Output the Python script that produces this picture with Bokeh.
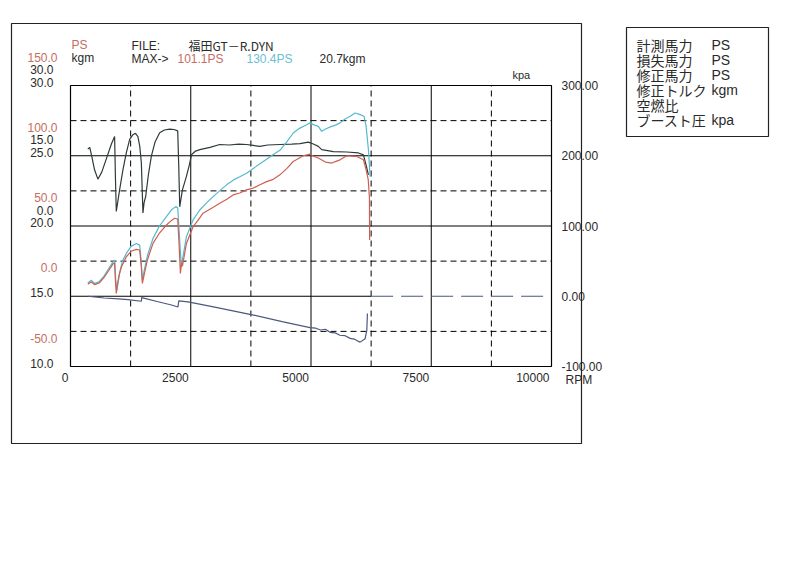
from bokeh.plotting import figure
from bokeh.models import Range1d
from bokeh.core.properties import value
from bokeh.embed import file_html
from bokeh.resources import INLINE

# ---------------- data ----------------
rpm_ticks = [0, 2500, 5000, 7500, 10000]
rpm_tick_labels = ["0", "2500", "5000", "7500", "10000"]
rpm_solid = [2500, 5000, 7500]
rpm_dash = [1250, 3750, 6250, 8750]
kpa_ticks = [300, 200, 100, 0, -100]
kpa_tick_labels = ["300.00", "200.00", "100.00", "0.00", "-100.00"]
kpa_solid = [100, 200]
kpa_dash = [-50, 50, 150, 250]

ps_ticks = [150, 100, 50, 0, -50]
ps_tick_labels = ["150.0", "100.0", "50.0", "0.0", "-50.0"]
kgm_ticks = [30, 15, 0]
kgm_tick_labels = ["30.0", "15.0", "0.0"]
afr_ticks = [30, 25, 20, 15, 10]
afr_tick_labels = ["30.0", "25.0", "20.0", "15.0", "10.0"]

# measured power (PS)
rpm_meas = [360, 431, 500, 600, 700, 800, 881, 917, 935, 952, 975, 1010, 1060, 1160, 1260, 1369,
            1438, 1470, 1494, 1530, 1600, 1715, 1850, 1994, 2100, 2167, 2229, 2260, 2285, 2310,
            2327, 2410, 2548, 2650, 2756, 2950, 3104, 3250, 3381, 3520, 3660, 3800, 3938, 4077,
            4200, 4354, 4500, 4631, 4740, 4840, 4979, 5060, 5152, 5300, 5431, 5520, 5604, 5744,
            5850, 5952, 6090, 6146, 6190, 6215, 6219]
ps_meas = [8.6, 10.2, 8.3, 9.5, 13.5, 18.5, 22.9, 23.8, 10.0, 2.0, 8.0, 15.0, 21.0, 28.1, 32.0, 33.4,
           32.9, 22.0, 9.1, 15.0, 26.0, 37.6, 45.0, 50.7, 54.0, 55.5, 55.0, 35.0, 16.2, 24.0,
           21.4, 37.6, 49.5, 54.0, 59.1, 63.0, 66.2, 69.0, 72.1, 73.5, 75.7, 77.0, 79.3, 81.6,
           83.0, 86.4, 91.0, 95.9, 98.0, 100.0, 101.1, 99.5, 98.4, 95.5, 94.8, 96.0, 97.1, 100.0,
           99.8, 99.5, 97.1, 90.0, 83.0, 70.0, 40.0]

# corrected power (PS)
rpm_corr = [360, 431, 500, 600, 700, 800, 881, 917, 940, 965, 990, 1030, 1080, 1160, 1260, 1369,
            1438, 1470, 1494, 1530, 1600, 1715, 1850, 1994, 2100, 2188, 2229, 2270, 2306, 2333,
            2410, 2548, 2688, 2830, 2965, 3100, 3244, 3400, 3520, 3660, 3800, 3938, 4077, 4200,
            4354, 4500, 4631, 4760, 4910, 4979, 5060, 5152, 5223, 5300, 5431, 5520, 5604, 5700,
            5813, 5917, 6021, 6104, 6146, 6194, 6229]
ps_corr = [9.5, 11.4, 9.0, 10.5, 14.5, 20.0, 24.3, 25.7, 12.0, 4.3, 10.0, 18.0, 25.0, 30.5, 35.5, 37.6,
           36.4, 25.0, 11.4, 18.0, 29.0, 41.2, 50.0, 56.6, 61.5, 63.8, 62.9, 40.0, 20.9, 27.1,
           42.4, 54.3, 61.4, 66.5, 70.9, 75.0, 79.3, 83.0, 85.0, 87.6, 91.0, 94.3, 97.5, 100.5,
           103.9, 110.0, 116.2, 119.5, 122.1, 123.4, 122.0, 120.9, 117.4, 119.0, 120.9, 122.0, 123.4, 126.0,
           128.1, 130.4, 129.3, 128.1, 120.9, 104.3, 85.0]

# corrected torque (kgm)
rpm_torque = [360, 400, 450, 500, 569, 650, 750, 850, 917, 935, 952, 980, 1021, 1090, 1160, 1230,
              1298, 1350, 1402, 1440, 1473, 1506, 1530, 1563, 1620, 1681, 1760, 1854, 1950, 2063,
              2150, 2229, 2250, 2271, 2300, 2327, 2410, 2470, 2515, 2600, 2688, 2900, 3104, 3300,
              3500, 3660, 3800, 3938, 4100, 4354, 4600, 4771, 4944, 5050, 5152, 5223, 5465, 5744,
              5985, 6090, 6146, 6194]
kgm_torque = [16.4, 16.8, 14.5, 12.0, 10.0, 11.5, 14.5, 17.5, 19.1, 10.0, 3.1, 5.0, 7.7, 12.0, 15.6, 18.5,
              19.5, 19.8, 19.1, 17.0, 13.5, 2.8, 5.0, 6.3, 11.0, 14.9, 18.0, 19.9, 20.5, 20.7,
              20.6, 20.3, 13.0, 4.1, 6.0, 7.7, 10.6, 13.0, 15.2, 16.0, 16.3, 16.8, 17.4, 17.3,
              17.5, 17.4, 17.2, 17.0, 17.3, 17.4, 17.5, 17.6, 17.9, 17.5, 17.0, 16.3, 15.9, 15.8,
              15.6, 15.2, 13.0, 10.9]

# boost pressure (kpa)
rpm_boost = [360, 700, 1000, 1194, 1473, 1480, 1800, 2100, 2235, 2250, 2444, 3000, 3729, 4400,
             4979, 5100, 5200, 5300, 5396, 5500, 5600, 5700, 5813, 5900, 5950, 6021, 6125, 6160, 6173]
kpa_boost = [0.0, -2.5, -3.8, -4.7, -7.1, -1.9, -7.5, -12.5, -15.3, -6.7, -8.1, -15.5, -25.7, -36.0,
             -44.7, -45.5, -48.0, -47.0, -51.4, -52.0, -55.5, -56.0, -60.0, -61.0, -63.0, -65.3, -60.4, -48.6, -24.7]

# air/fuel ratio trace: solid over the run, dashed beyond
rpm_afr = [0, 6250]
afr_vals = [15.0, 15.0]
rpm_afr_tail = [6250, 9900]
afr_tail = [15.0, 15.0]

legend_names = ["計測馬力", "損失馬力", "修正馬力", "修正トルク", "空燃比", "ブースト圧"]
legend_units = ["PS", "PS", "PS", "kgm", "", "kpa"]

# ---------------- geometry (pixels of the 800x582 page) ----------------
W, H = 800, 582
X0PX, X1PX = 70, 551       # rpm 0 .. 10000
Y0PX, Y1PX = 85, 366       # kpa 300 .. -100
SX = (X1PX - X0PX) / 10000.0   # px per rpm
SY = (Y1PX - Y0PX) / 400.0     # px per kpa


def X(px):
    return (px - X0PX) / SX


def Y(py):
    return 300 - (py - Y0PX) / SY


def to_ps(k):
    return k / 2.0


def to_kgm(k):
    return (k - 100) * 0.15


def to_afr(k):
    return 15 + k / 20.0


k_lo, k_hi = Y(H), Y(0)

RED = "#cf5f50"
RED_TXT = "#c46e62"
CYAN = "#55b9cd"
CYAN_TXT = "#6cc0d0"
DARK = "#2f3a3a"
BOOST = "#4a5a7c"
TXT = "#2a2a2a"
FONT = "Liberation Sans"
JFONT = "Noto Sans CJK JP"

p = figure(width=W, height=H, output_backend="svg", toolbar_location=None, title=None,
           x_range=Range1d(X(0), X(W)), y_range=Range1d(k_lo, k_hi),
           x_axis_location=None, y_axis_location=None, min_border=0)
p.extra_y_ranges = {"ps": Range1d(to_ps(k_lo), to_ps(k_hi)),
                    "kgm": Range1d(to_kgm(k_lo), to_kgm(k_hi)),
                    "afr": Range1d(to_afr(k_lo), to_afr(k_hi))}
p.background_fill_color = "white"
p.border_fill_color = "white"
p.outline_line_color = None
p.grid.visible = False

# grid
p.segment(x0=rpm_solid, x1=rpm_solid, y0=[-100] * 3, y1=[300] * 3, line_color="black", line_width=1)
p.segment(x0=rpm_dash, x1=rpm_dash, y0=[-100] * 4, y1=[300] * 4, line_color="black", line_width=1,
          line_dash="6 4")
p.segment(x0=[0] * 2, x1=[10000] * 2, y0=kpa_solid, y1=kpa_solid, line_color="black", line_width=1)
p.segment(x0=[0] * 4, x1=[10000] * 4, y0=kpa_dash, y1=kpa_dash, line_color="black", line_width=1,
          line_dash="6 4")
p.quad(left=[0], right=[10000], bottom=[-100], top=[300], fill_color=None, line_color="black",
       line_width=1.2)

# tick labels
tfont = dict(text_font=value(FONT), text_font_size=value("12px"))
p.text(x=[t - 2 / SX for t in rpm_ticks], y=[Y(Y1PX + 11)] * len(rpm_ticks), text=rpm_tick_labels,
       text_align="right", text_baseline="middle", text_color=TXT, **tfont)
p.text(x=[10000 + 10 / SX] * len(kpa_ticks), y=kpa_ticks, text=kpa_tick_labels,
       text_align="left", text_baseline="middle", text_color=TXT, **tfont)
p.text(x=[X(57)] * len(ps_ticks), y=[t + 28.5 / (2 * SY) for t in ps_ticks], text=ps_tick_labels,
       y_range_name="ps", text_align="right", text_baseline="middle", text_color=RED_TXT, **tfont)
p.text(x=[X(53)] * len(kgm_ticks), y=[t + 16 * 0.15 / SY for t in kgm_ticks], text=kgm_tick_labels,
       y_range_name="kgm", text_align="right", text_baseline="middle", text_color=TXT, **tfont)
p.text(x=[X(53)] * len(afr_ticks), y=[t + 3.5 / (20 * SY) for t in afr_ticks], text=afr_tick_labels,
       y_range_name="afr", text_align="right", text_baseline="middle", text_color=TXT, **tfont)

# curves
p.line(rpm_afr, afr_vals, y_range_name="afr", line_color="black", line_width=1.1)
p.line(rpm_afr_tail, afr_tail, y_range_name="afr", line_color=BOOST, line_width=1.2, line_dash="22 8")
p.line(rpm_boost, kpa_boost, line_color=BOOST, line_width=1.2)
p.line(rpm_torque, kgm_torque, y_range_name="kgm", line_color=DARK, line_width=1.2)
p.line(rpm_corr, ps_corr, y_range_name="ps", line_color=CYAN, line_width=1.2)
p.line(rpm_meas, ps_meas, y_range_name="ps", line_color=RED, line_width=1.2)


def txt(s, ix, iy, color=TXT, size="12px", font=FONT, align="left"):
    p.text(x=[X(ix)], y=[Y(iy)], text=[s], text_color=color, text_font=value(font),
           text_font_size=value(size), text_align=align, text_baseline="middle")


txt("PS", 71, 44, RED_TXT)
txt("kgm", 71, 57.5)
txt("FILE:", 131, 45)
txt("福田GT－R.DYN", 188, 45, font=JFONT)
txt("MAX->", 131, 58.5)
txt("%.1fPS" % max(ps_meas), 177, 58.5, RED_TXT)
txt("%.1fPS" % max(ps_corr), 246, 58.5, CYAN_TXT)
txt("%.1fkgm" % max(kgm_torque), 319, 58.5)
txt("kpa", 512, 74, size="11px")
txt("RPM", 565, 379)

# outer frames
p.quad(left=[X(11), X(626)], right=[X(581), X(768)], top=[Y(23), Y(27)], bottom=[Y(443), Y(136)],
       fill_color=None, line_color="#222", line_width=1.2)

# legend list
leg_y = [44, 59, 74, 89, 104, 119]
for name, unit, ly in zip(legend_names, legend_units, leg_y):
    txt(name, 636, ly, size="14px", font=JFONT)
    if unit:
        txt(unit, 711, ly, size="14px")

open("out.html", "w").write(file_html(p, INLINE))
